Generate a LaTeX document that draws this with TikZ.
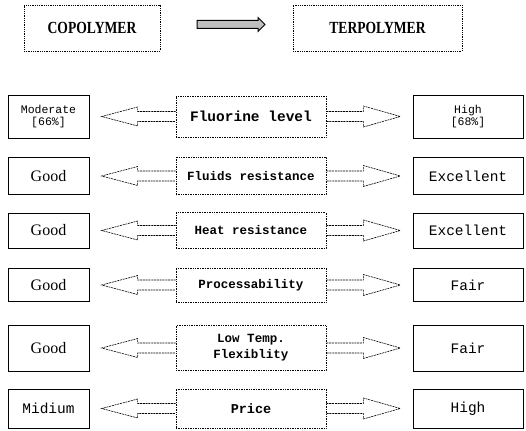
\documentclass[tikz,border=0pt]{standalone}
\usepackage{fontspec}
\setmainfont{Liberation Serif}
\newfontfamily\monofont{Liberation Mono}
\newfontfamily\condfont[FakeStretch=0.8]{Liberation Serif}
\usetikzlibrary{shapes.arrows}

\tikzset{
  topbox/.style={draw, densely dotted, line width=0.8pt, minimum height=46,
    font=\condfont\bfseries\fontsize{17}{20}\selectfont},
  sidebox/.style={draw, line width=0.8pt, inner sep=0.75pt, align=center},
  midbox/.style={draw, densely dotted, line width=0.7pt, minimum width=150,
    inner sep=0.75pt, align=center, font=\monofont\bfseries\fontsize{12.5}{16}\selectfont},
  arr/.style={line width=0.6pt, dash pattern=on 2pt off 0.8pt},
  goodtxt/.style={font=\fontsize{16}{18}\selectfont},
  valtxt/.style={font=\monofont\fontsize{14.5}{16}\selectfont},
  pcttxt/.style={font=\monofont\fontsize{11.5}{12.5}\selectfont},
}

\begin{document}
\begin{tikzpicture}[x=1pt,y=1pt,yscale=-1]
\useasboundingbox (0,0) rectangle (526,430);

%Shape: Rectangle [copolymer / terpolymer]
\node[topbox, minimum width=136] (co) at (92,28) {COPOLYMER};
\node[topbox, minimum width=169] (ter) at (377.5,28) {TERPOLYMER};
%Shape: Arrow
\node[single arrow, draw, line width=1pt, fill=black!25, inner sep=3.5pt,
  minimum height=68, single arrow head extend=3pt] (go) at (229,24.5) {};

%Row: fluorine level
\node[sidebox, pcttxt, minimum width=81, minimum height=43] (l1) at (48.5,116.5) {Moderate\\{[}66\%{]}};
\node[midbox, minimum height=41, font=\monofont\bfseries\fontsize{14.5}{16}\selectfont] (m1) at (251,116.5) {Fluorine level};
\node[sidebox, pcttxt, minimum width=110, minimum height=43] (r1) at (468,116.5) {High\\{[}68\%{]}};

%Row: fluids resistance
\node[sidebox, goodtxt, minimum width=81, minimum height=37] (l2) at (48.5,176) {Good};
\node[midbox, minimum height=37] (m2) at (251,176) {Fluids resistance};
\node[sidebox, valtxt, minimum width=110, minimum height=37] (r2) at (468,176) {Excellent};

%Row: heat resistance
\node[sidebox, goodtxt, minimum width=81, minimum height=35] (l3) at (48.5,230.5) {Good};
\node[midbox, minimum height=36] (m3) at (251,230.5) {Heat resistance};
\node[sidebox, valtxt, minimum width=110, minimum height=35] (r3) at (468,230.5) {Excellent};

%Row: processability
\node[sidebox, goodtxt, minimum width=81, minimum height=33] (l4) at (48.5,285) {Good};
\node[midbox, minimum height=34] (m4) at (251,285) {Processability};
\node[sidebox, valtxt, minimum width=110, minimum height=33] (r4) at (468,285) {Fair};

%Row: low temp. flexiblity
\node[sidebox, goodtxt, minimum width=81, minimum height=46] (l5) at (48.5,348) {Good};
\node[midbox, minimum height=45] (m5) at (251,348) {Low Temp.\\Flexiblity};
\node[sidebox, valtxt, minimum width=110, minimum height=46] (r5) at (468,348) {Fair};

%Row: price
\node[sidebox, valtxt, minimum width=81, minimum height=39] (l6) at (48.5,408.5) {Midium};
\node[midbox, minimum height=39, font=\monofont\bfseries\fontsize{13.5}{16}\selectfont] (m6) at (251,408.5) {Price};
\node[sidebox, valtxt, minimum width=110, minimum height=39] (r6) at (468,408.5) {High};

%Hollow arrows, left side
\draw[arr] (m1.west) ++(0,-5) -- ++(-38,0) -- ++(0,-4.5) -- ++(-36,9.5) -- ++(36,9.5) -- ++(0,-4.5) -- ++(38,0);
\draw[arr] (m2.west) ++(0,-5) -- ++(-38,0) -- ++(0,-4.5) -- ++(-36,9.5) -- ++(36,9.5) -- ++(0,-4.5) -- ++(38,0);
\draw[arr] (m3.west) ++(0,-5) -- ++(-38,0) -- ++(0,-4.5) -- ++(-36,9.5) -- ++(36,9.5) -- ++(0,-4.5) -- ++(38,0);
\draw[arr] (m4.west) ++(0,-5) -- ++(-38,0) -- ++(0,-4.5) -- ++(-36,9.5) -- ++(36,9.5) -- ++(0,-4.5) -- ++(38,0);
\draw[arr] (m5.west) ++(0,-5) -- ++(-38,0) -- ++(0,-4.5) -- ++(-36,9.5) -- ++(36,9.5) -- ++(0,-4.5) -- ++(38,0);
\draw[arr] (m6.west) ++(0,-5) -- ++(-38,0) -- ++(0,-4.5) -- ++(-36,9.5) -- ++(36,9.5) -- ++(0,-4.5) -- ++(38,0);
%Hollow arrows, right side
\draw[arr] (m1.east) ++(0,-5) -- ++(37,0) -- ++(0,-5.5) -- ++(37,10.5) -- ++(-37,10.5) -- ++(0,-5.5) -- ++(-37,0);
\draw[arr] (m2.east) ++(0,-5) -- ++(37,0) -- ++(0,-5.5) -- ++(37,10.5) -- ++(-37,10.5) -- ++(0,-5.5) -- ++(-37,0);
\draw[arr] (m3.east) ++(0,-5) -- ++(37,0) -- ++(0,-5.5) -- ++(37,10.5) -- ++(-37,10.5) -- ++(0,-5.5) -- ++(-37,0);
\draw[arr] (m4.east) ++(0,-5) -- ++(37,0) -- ++(0,-5.5) -- ++(37,10.5) -- ++(-37,10.5) -- ++(0,-5.5) -- ++(-37,0);
\draw[arr] (m5.east) ++(0,-5) -- ++(37,0) -- ++(0,-5.5) -- ++(37,10.5) -- ++(-37,10.5) -- ++(0,-5.5) -- ++(-37,0);
\draw[arr] (m6.east) ++(0,-5) -- ++(37,0) -- ++(0,-5.5) -- ++(37,10.5) -- ++(-37,10.5) -- ++(0,-5.5) -- ++(-37,0);
\end{tikzpicture}
\end{document}
